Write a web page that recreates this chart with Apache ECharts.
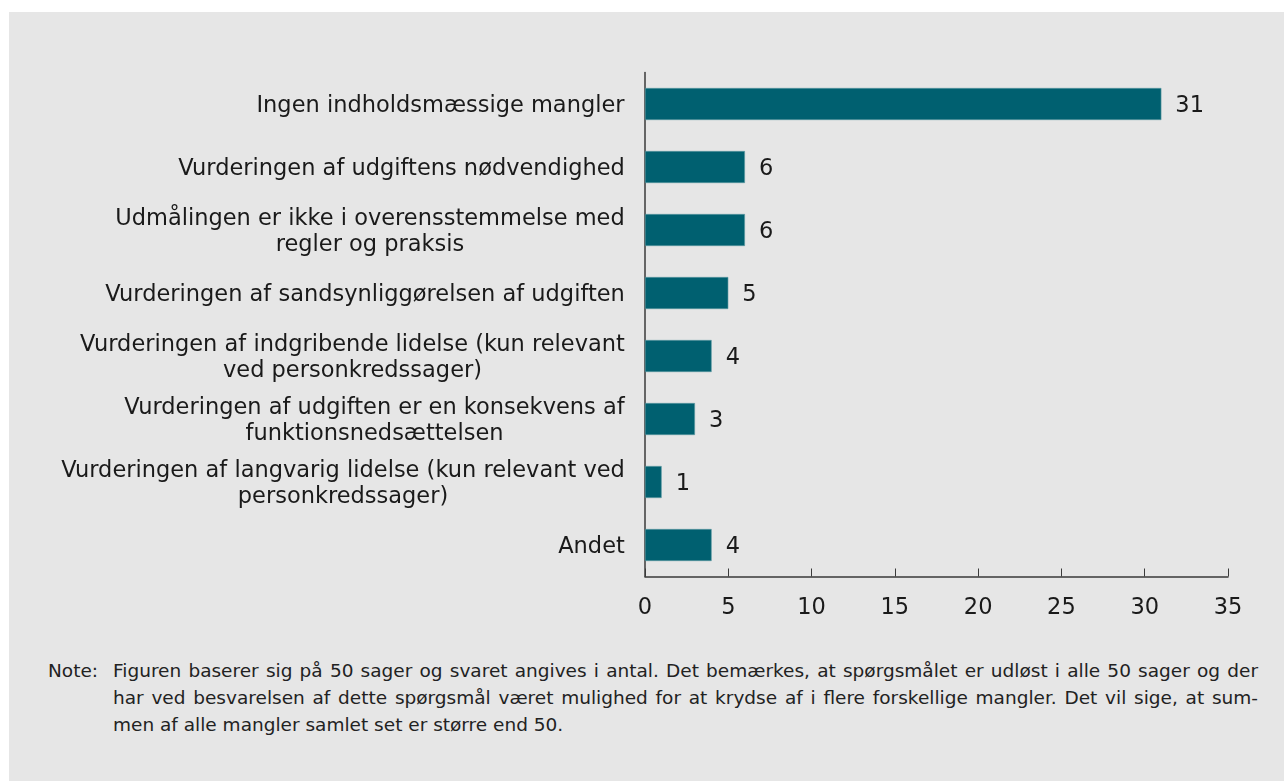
<!DOCTYPE html>
<html>
<head>
<meta charset="utf-8">
<script src="https://cdn.jsdelivr.net/npm/echarts@6/dist/echarts.min.js"></script>
<style>
  html, body { margin: 0; padding: 0; background: #fff; }
  #panel { position: absolute; left: 9px; top: 12px; width: 1275px; height: 769px; background: #e6e6e6; }
  #chart { position: absolute; left: 0; top: 0; width: 1275px; height: 640px; }
  #note { position: absolute; left: 39px; top: 645px; width: 1210px; font-family: "DejaVu Sans", sans-serif; font-size: 18.5px; color: #222; line-height: 27px; }
  #note .lbl { position: absolute; left: 0; top: 0; }
  #note .body { margin-left: 65px; width: 1145px; }
  #note .ln { white-space: nowrap; text-align: justify; text-align-last: justify; }
  #note .ln.last { text-align-last: left; }
</style>
</head>
<body>
<div id="panel">
  <div id="chart"></div>
  <div id="note">
    <div class="lbl">Note:</div>
    <div class="body">
      <div class="ln">Figuren baserer sig på 50 sager og svaret angives i antal. Det bemærkes, at spørgsmålet er udløst i alle 50 sager og der</div>
      <div class="ln">har ved besvarelsen af dette spørgsmål været mulighed for at krydse af i flere forskellige mangler. Det vil sige, at sum-</div>
      <div class="ln last">men af alle mangler samlet set er større end 50.</div>
    </div>
  </div>
</div>
<script>
// kategorier og antal
var categories = [
    'Ingen indholdsmæssige mangler',
    'Vurderingen af udgiftens nødvendighed',
    'Udmålingen er ikke i overensstemmelse med\nregler og praksis',
    'Vurderingen af sandsynliggørelsen af udgiften',
    'Vurderingen af indgribende lidelse (kun relevant\nved personkredssager)',
    'Vurderingen af udgiften er en konsekvens af\nfunktionsnedsættelsen',
    'Vurderingen af langvarig lidelse (kun relevant ved\npersonkredssager)',
    'Andet'
];
var counts = [31, 6, 6, 5, 4, 3, 1, 4];
var xTicks = [0, 5, 10, 15, 20, 25, 30, 35];

(function(){
    var fs = 22.5;
    var ctx = document.createElement('canvas').getContext('2d');
    ctx.font = fs + 'px "DejaVu Sans"';

    // hver label får sin egen rich-stil, så linjerne centreres i blokken
    var rich = {};
    categories.forEach(function(c, i){
        var w = 0;
        c.split('\n').forEach(function(l){ w = Math.max(w, ctx.measureText(l).width); });
        rich['l' + i] = { width: Math.ceil(w), align: 'center', fontSize: fs, lineHeight: 26,
                          fontFamily: 'DejaVu Sans', color: '#1a1a1a' };
    });

    var chart = echarts.init(document.getElementById('chart'));

    var option = {
        animation: false,
        grid: { left: 636, right: 56, top: 60.5, bottom: 75.5, outerBoundsMode: 'none' },
        xAxis: {
            type: 'value',
            min: xTicks[0],
            max: xTicks[xTicks.length - 1],
            interval: 5,
            axisLine: { show: true, lineStyle: { color: '#3a3a3a', width: 1.5 } },
            axisTick: { show: true, inside: true, length: 8, lineStyle: { color: '#3a3a3a' } },
            splitLine: { show: false },
            axisLabel: { margin: 20, fontSize: fs, fontFamily: 'DejaVu Sans', color: '#1a1a1a' }
        },
        yAxis: {
            type: 'category',
            inverse: true,
            data: categories,
            axisLine: { show: true, lineStyle: { color: '#3a3a3a', width: 1.5 } },
            axisTick: { show: false },
            axisLabel: {
                margin: 20,
                align: 'right',
                padding: [4, 0, 0, 0],
                formatter: function(v, i){
                    return v.split('\n').map(function(l){ return '{l' + i + '|' + l + '}'; }).join('\n');
                },
                rich: rich
            }
        },
        series: [{
            type: 'bar',
            data: counts,
            barWidth: 32,
            itemStyle: { color: '#006070', borderColor: '#5d9aa3', borderWidth: 0.6 },
            label: {
                show: true,
                position: 'right',
                distance: 14,
                offset: [0, 2],
                fontSize: fs,
                fontFamily: 'DejaVu Sans',
                color: '#1a1a1a'
            }
        }]
    };

    chart.setOption(option);
})();
</script>
</body>
</html>
